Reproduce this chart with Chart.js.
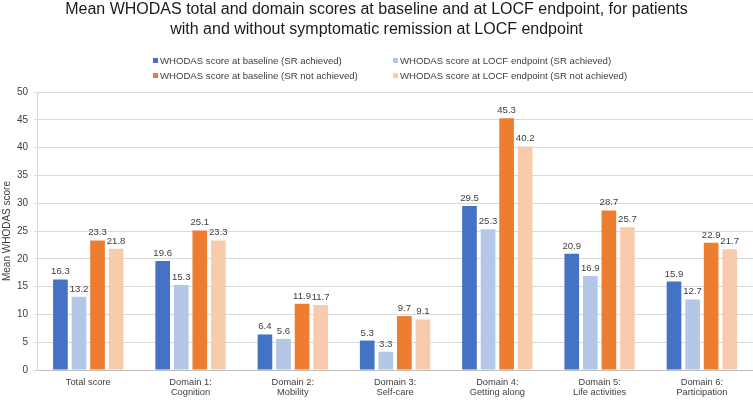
<!DOCTYPE html>
<html>
<head>
<meta charset="utf-8">
<script src="https://cdn.jsdelivr.net/npm/chart.js@4"></script>
<style>
  html, body { margin: 0; padding: 0; background: #fff; }
  #wrap { position: relative; width: 753px; height: 400px; font-family: "Liberation Sans", Arial, sans-serif; overflow: hidden; }
  #title { position: absolute; left: 0; top: -1px; width: 753px; text-align: center; font-size: 16px; line-height: 20px; color: #1a1a1a; z-index: 2; }
  #legend { position: absolute; left: 153px; top: 53px; display: grid; grid-template-columns: 240px 240px; font-size: 9.6px; color: #404040; z-index: 2; }
  .li { display: flex; align-items: center; height: 15px; white-space: nowrap; }
  .sw { width: 5px; height: 5px; margin-right: 2px; flex: none; }
  canvas { position: absolute; left: 0; top: 0; }
</style>
</head>
<body>
<div id="wrap">
  <div id="title">Mean WHODAS total and domain scores at baseline and at LOCF endpoint, for patients<br>with and without symptomatic remission at LOCF endpoint</div>
  <div id="legend"></div>
  <canvas id="c" width="753" height="400"></canvas>
</div>
<script>
const categories = [
  "Total score",
  ["Domain 1:", "Cognition"],
  ["Domain 2:", "Mobility"],
  ["Domain 3:", "Self-care"],
  ["Domain 4:", "Getting along"],
  ["Domain 5:", "Life activities"],
  ["Domain 6:", "Participation"]
];
const seriesLabels = [
  "WHODAS score at baseline (SR achieved)",
  "WHODAS score at LOCF endpoint (SR achieved)",
  "WHODAS score at baseline (SR not achieved)",
  "WHODAS score at LOCF endpoint (SR not achieved)"
];
const baselineAchieved     = [16.3, 19.6, 6.4, 5.3, 29.5, 20.9, 15.9];
const endpointAchieved     = [13.2, 15.3, 5.6, 3.3, 25.3, 16.9, 12.7];
const baselineNotAchieved  = [23.3, 25.1, 11.9, 9.7, 45.3, 28.7, 22.9];
const endpointNotAchieved  = [21.8, 23.3, 11.7, 9.1, 40.2, 25.7, 21.7];
const seriesColors = ["#4472C4", "#B4C7E7", "#ED7D31", "#F8CBAD"];
const yMin = 0, yMax = 50, yStep = 5;
const yTitle = "Mean WHODAS score";

const seriesData = [baselineAchieved, endpointAchieved, baselineNotAchieved, endpointNotAchieved];
const FONT = '"Liberation Sans", Arial, sans-serif';

const legend = document.getElementById('legend');
seriesLabels.forEach((lab, i) => {
  const d = document.createElement('div');
  d.className = 'li';
  d.innerHTML = '<span class="sw" style="background:' + seriesColors[i] + '"></span><span>' + lab + '</span>';
  legend.appendChild(d);
});

const valueLabels = {
  id: 'valueLabels',
  afterDatasetsDraw(chart) {
    const ctx = chart.ctx;
    ctx.save();
    ctx.font = '9.6px ' + FONT;
    ctx.fillStyle = '#404040';
    ctx.textAlign = 'center';
    ctx.textBaseline = 'alphabetic';
    chart.data.datasets.forEach((ds, di) => {
      const meta = chart.getDatasetMeta(di);
      meta.data.forEach((el, i) => {
        ctx.fillText(ds.data[i].toFixed(1), el.x, el.y - 5);
      });
    });
    ctx.restore();
  }
};

new Chart(document.getElementById('c'), {
  type: 'bar',
  data: {
    labels: categories,
    datasets: seriesData.map((d, i) => ({
      label: seriesLabels[i],
      data: d,
      backgroundColor: seriesColors[i],
      borderWidth: 0,
      categoryPercentage: 0.726,
      barPercentage: 0.79
    }))
  },
  options: {
    responsive: false,
    animation: false,
    devicePixelRatio: 1,
    layout: { padding: { top: 92, left: 0, right: 0, bottom: -4.5 } },
    plugins: {
      legend: { display: false },
      title: { display: false },
      tooltip: { enabled: false }
    },
    scales: {
      x: {
        grid: { display: false, drawTicks: false, tickLength: 0 },
        border: { display: true, color: '#BFBFBF', width: 1 },
        ticks: {
          color: '#404040',
          font: { family: FONT, size: 9.3, lineHeight: 1.1 },
          maxRotation: 0,
          autoSkip: false,
          padding: 7
        }
      },
      y: {
        min: yMin,
        max: yMax,
        ticks: {
          stepSize: yStep,
          color: '#404040',
          font: { family: FONT, size: 10 },
          padding: 6
        },
        grid: { color: '#D9D9D9', tickLength: 3 },
        border: { display: true, color: '#D9D9D9' },
        title: {
          display: true,
          text: yTitle,
          color: '#404040',
          font: { family: FONT, size: 10 },
          padding: { top: 1, bottom: -2 }
        }
      }
    }
  },
  plugins: [valueLabels]
});
</script>
</body>
</html>
